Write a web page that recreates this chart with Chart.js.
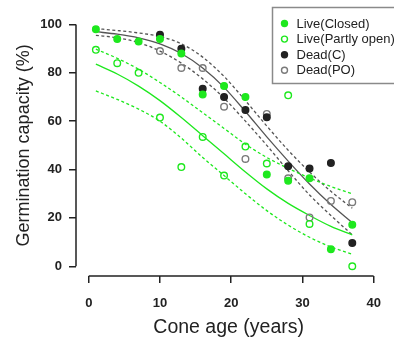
<!DOCTYPE html>
<html lang="en">
<head>
    <meta charset="UTF-8">
    <title>Germination capacity vs cone age</title>
    <script src="https://cdn.jsdelivr.net/npm/chart.js"></script>
    <style>
        body { margin: 0; background: #fff; }
        canvas { display: block; }
    </style>
</head>
<body>
<canvas id="germChart" width="394" height="339"></canvas>

<script>
    // observed points
    const ages = [1, 4, 7, 10, 13, 16, 19, 22, 25, 28, 31, 34, 37];
    const liveClosed = [98, 94, 93, 94, 88, 71, 74.6, 70, 38, 35.4, 36.4, 7, 17.2];
    const livePartlyOpen = [89.5, 84, 80, 61.5, 41, 53.5, 37.5, 49.5, 42.5, 70.7, 17.5, null, 0];
    const deadAges = [10, 13, 16, 19, 22, 25, 28, 31, 34, 37];
    const deadClosed = [95.8, 90, 73.4, 70, 64.6, 61.6, 41.4, 40.4, 42.7, 9.6];
    const deadPartlyOpen = [89, 82, 82, 66, 44.4, 63, 36.4, 20.2, 27, 26.5];

    // fitted curves + confidence bands
    const fitAges = [1, 4, 7, 10, 13, 16, 19, 22, 25, 28, 31, 34, 37];
    const liveFit = [83.6, 79.5, 74.5, 68.5, 61.5, 54, 46.5, 39, 32, 26, 21, 16.5, 13];
    const liveFitUpper = [89.8, 86, 81.5, 76, 70, 63.5, 57, 50.5, 45, 40.5, 36.5, 33, 30];
    const liveFitLower = [72.5, 69, 65, 60, 53, 45, 37.5, 30, 23, 17, 12, 8, 5];
    const deadFit = [97, 96, 94.5, 92, 88, 82, 74, 64, 53.5, 43.5, 34, 25.5, 18];
    const deadFitUpper = [98.3, 97.5, 96.5, 95, 92, 86.5, 78.5, 68.5, 58, 48, 39, 31, 24];
    const deadFitLower = [95.5, 94.5, 92.5, 89, 84, 77.5, 69.5, 60, 50, 39.5, 29.5, 21, 13];

    const xTicks = [0, 10, 20, 30, 40];
    const yTicks = [0, 20, 40, 60, 80, 100];
    const seriesNames = ['Live(Closed)', 'Live(Partly open)', 'Dead(C)', 'Dead(PO)'];

    const GREEN = '#1ee81e';
    const DARK = '#222222';
    const GREY = '#7a7a7a';
    const FIT_DARK = '#555555';
    const FONT = "'Liberation Sans', Arial, sans-serif";

    function pts(xs, ys) {
        return xs.map((x, i) => ({x: x, y: ys[i]}));
    }

    function pointSet(label, xs, ys, color, filled) {
        return {
            label: label,
            data: pts(xs, ys),
            showLine: false,
            pointStyle: 'circle',
            pointRadius: 3.3,
            pointBorderWidth: 1.4,
            borderColor: color,
            backgroundColor: filled ? color : 'rgba(0,0,0,0)',
            pointBackgroundColor: filled ? color : 'rgba(0,0,0,0)',
            order: 0
        };
    }

    function curveSet(ys, color, dashed) {
        return {
            label: '',
            data: pts(fitAges, ys),
            showLine: true,
            borderColor: color,
            borderWidth: 1.3,
            borderDash: dashed ? [3, 2.5] : [],
            pointRadius: 0,
            fill: false,
            cubicInterpolationMode: 'monotone',
            order: 1
        };
    }

    // R style axes: line only across the tick range
    const axisLines = {
        id: 'axisLines',
        afterDraw(chart) {
            const ctx = chart.ctx;
            const xs = chart.scales.x, ys = chart.scales.y;
            ctx.save();
            ctx.strokeStyle = '#222';
            ctx.lineWidth = 1.5;
            ctx.beginPath();
            ctx.moveTo(xs.getPixelForValue(xTicks[0]), chart.chartArea.bottom);
            ctx.lineTo(xs.getPixelForValue(xTicks[xTicks.length - 1]), chart.chartArea.bottom);
            ctx.moveTo(chart.chartArea.left, ys.getPixelForValue(yTicks[0]));
            ctx.lineTo(chart.chartArea.left, ys.getPixelForValue(yTicks[yTicks.length - 1]));
            ctx.stroke();
            ctx.restore();
        }
    };

    // boxed legend in the top right corner
    const boxLegend = {
        id: 'boxLegend',
        afterDraw(chart) {
            const ctx = chart.ctx;
            const left = 272.5, top = 7.5, rowH = 15.6;
            ctx.save();
            ctx.strokeStyle = '#8a8a8a';
            ctx.lineWidth = 1.5;
            ctx.strokeRect(left, top, 140, 76);
            ctx.font = '13px ' + FONT;
            ctx.textBaseline = 'middle';
            seriesNames.forEach((name, i) => {
                const ds = chart.data.datasets[i];
                const cy = top + 16 + i * rowH;
                ctx.beginPath();
                ctx.arc(left + 12, cy, 3, 0, Math.PI * 2);
                ctx.fillStyle = ds.pointBackgroundColor;
                ctx.fill();
                ctx.lineWidth = 1.4;
                ctx.strokeStyle = ds.borderColor;
                ctx.stroke();
                ctx.fillStyle = '#222';
                ctx.fillText(name, left + 24, cy + 0.5);
            });
            ctx.restore();
        }
    };

    new Chart(document.getElementById('germChart'), {
        type: 'scatter',
        data: {
            datasets: [
                pointSet(seriesNames[0], ages, liveClosed, GREEN, true),
                pointSet(seriesNames[1], ages, livePartlyOpen, GREEN, false),
                pointSet(seriesNames[2], deadAges, deadClosed, DARK, true),
                pointSet(seriesNames[3], deadAges, deadPartlyOpen, GREY, false),
                curveSet(liveFit, GREEN, false),
                curveSet(liveFitUpper, GREEN, true),
                curveSet(liveFitLower, GREEN, true),
                curveSet(deadFit, FIT_DARK, false),
                curveSet(deadFitUpper, FIT_DARK, true),
                curveSet(deadFitLower, FIT_DARK, true)
            ]
        },
        options: {
            responsive: false,
            animation: false,
            layout: { padding: { top: 8, right: 0, left: 0, bottom: 0 } },
            plugins: {
                legend: { display: false },
                tooltip: { enabled: false }
            },
            scales: {
                x: {
                    type: 'linear',
                    min: -1.79,
                    max: 41.08,
                    afterBuildTicks: s => { s.ticks = xTicks.map(v => ({value: v})); },
                    afterFit: s => { s.height = 63; },
                    border: { display: false },
                    grid: { drawOnChartArea: false, tickLength: 7, color: '#222', lineWidth: 1.5 },
                    ticks: {
                        color: '#222',
                        padding: 13,
                        maxRotation: 0,
                        font: { family: FONT, size: 13, weight: 'bold' }
                    },
                    title: {
                        display: true,
                        text: 'Cone age (years)',
                        color: '#222',
                        padding: { top: 0, bottom: 0 },
                        font: { family: FONT, size: 19.5, lineHeight: 1.2 }
                    }
                },
                y: {
                    min: -4.03,
                    max: 104,
                    afterBuildTicks: s => { s.ticks = yTicks.map(v => ({value: v})); },
                    afterFit: s => { s.width = 76; },
                    border: { display: false },
                    grid: { drawOnChartArea: false, tickLength: 7, color: '#222', lineWidth: 1.5 },
                    ticks: {
                        color: '#222',
                        padding: 7,
                        font: { family: FONT, size: 13, weight: 'bold' }
                    },
                    title: {
                        display: true,
                        text: 'Germination capacity (%)',
                        color: '#222',
                        padding: { top: 13, bottom: 0 },
                        font: { family: FONT, size: 18, lineHeight: 1.2 }
                    }
                }
            }
        },
        plugins: [axisLines, boxLegend]
    });
</script>
</body>
</html>
